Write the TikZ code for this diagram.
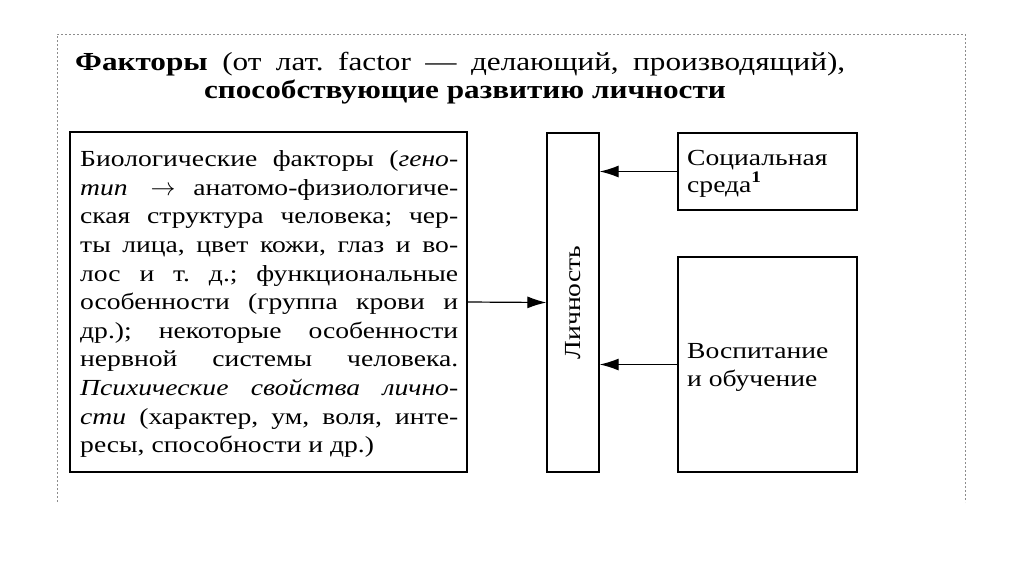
\documentclass[tikz,border=0pt]{standalone}
\usepackage{fontspec}
\setmainfont{Liberation Serif}[FakeStretch=1.2]
\usetikzlibrary{arrows.meta}
\frenchspacing
\tikzset{
  box/.style={draw, line width=1.3pt, inner sep=0pt},
  arr/.style={line width=1.2pt, -{Latex[length=19pt,width=12pt]}},
  txt/.style={anchor=base west, inner sep=0pt, font=\fontsize{23}{28}\selectfont},
  ttl/.style={inner sep=0pt, font=\fontsize{26}{30}\selectfont},
  frame/.style={draw=black!45, line width=0.8pt, dash pattern=on 2pt off 2pt}
}
\newcommand{\jl}[1]{\makebox[378pt][s]{#1}}
\begin{document}
\begin{tikzpicture}[x=1pt,y=-1pt]
\useasboundingbox (0,0) rectangle (1024,574);
% frame
\coordinate (f1) at (57,502);
\coordinate (f2) at (57,34);
\coordinate (f3) at (965,34);
\coordinate (f4) at (965,502);
\draw[frame] (f1) -- (f2) -- (f3) -- (f4);
% title
\node[ttl, anchor=base west] (t1) at (75,70)
  {\makebox[770pt][s]{\textbf{Факторы} (от лат. factor --- делающий, производящий),}};
\node[ttl, anchor=base, font=\fontsize{26}{30}\selectfont\bfseries] (t2) at (465,98)
  {способствующие развитию личности};
% boxes
\node[box, minimum width=397pt, minimum height=340pt] (bio) at (268.5,302) {};
\node[box, minimum width=52pt, minimum height=339pt] (lich) at (573,302.5) {};
\node[box, minimum width=179pt, minimum height=77pt] (soc) at (767.5,171.5) {};
\node[box, minimum width=179pt, minimum height=215pt] (vos) at (767.5,364.5) {};
% left text
\node[txt] (b1) at (80,166.7) {\jl{Биологические факторы (\textit{гено-}}};
\node[txt] (b2) at (80,195.3) {\jl{\textit{тип}\quad $\rightarrow$ анатомо-физиологиче-}};
\node[txt] (b3) at (80,223.9) {\jl{ская структура человека; чер-}};
\node[txt] (b4) at (80,252.5) {\jl{ты лица, цвет кожи, глаз и во-}};
\node[txt] (b5) at (80,281.1) {\jl{лос и т. д.; функциональные}};
\node[txt] (b6) at (80,309.7) {\jl{особенности (группа крови и}};
\node[txt] (b7) at (80,338.3) {\jl{др.); некоторые особенности}};
\node[txt] (b8) at (80,366.9) {\jl{нервной системы человека.}};
\node[txt] (b9) at (80,395.5) {\jl{\textit{Психические свойства лично-}}};
\node[txt] (b10) at (80,424.1) {\jl{\textit{сти} (характер, ум, воля, инте-}};
\node[txt] (b11) at (80,452.7) {ресы, способности и др.)};
% right texts
\node[txt] (s1) at (687,165) {Социальная};
\node[txt] (s2) at (687,192) {среда$^{\mathbf{1}}$};
\node[txt] (v1) at (687,358) {Воспитание};
\node[txt] (v2) at (687,386) {и обучение};
\node[rotate=90, inner sep=0pt, font=\fontsize{23}{28}\selectfont] (ln) at (lich.center) {Личность};
% arrows
\draw[arr] (bio.east) -- (lich.west);
\draw[arr] (soc.west) -- (soc.west -| lich.east);
\draw[arr] (vos.west) -- (vos.west -| lich.east);
\end{tikzpicture}
\end{document}
